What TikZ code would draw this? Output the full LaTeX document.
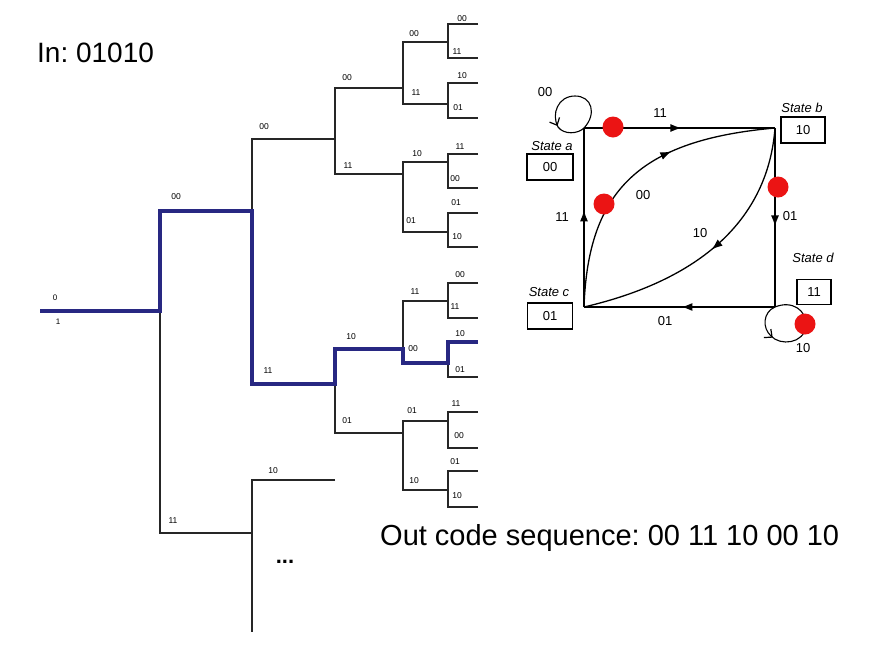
\documentclass[tikz,border=0pt]{standalone}
\usepackage{fontspec}
\setmainfont{Liberation Sans}
\usetikzlibrary{arrows.meta,decorations.markings}
\definecolor{pathblue}{RGB}{40,40,130}
\definecolor{dotred}{RGB}{235,20,20}
\frenchspacing
\newcommand\forkat[5]{%
  \coordinate (#1t) at (#2,#3); \coordinate (#1b) at (#2,#4);
  \coordinate (#1te) at (#5,#3); \coordinate (#1be) at (#5,#4);
  \draw[tree] (#1te) -- (#1t) -- (#1b) -- (#1be);}
\begin{document}
\begin{tikzpicture}[x=1pt,y=-1pt,
  tree/.style={line width=1.2pt,draw=black!85},
  best/.style={line width=3.2pt,draw=pathblue},
  tl/.style={font=\fontsize{8.5}{9}\selectfont,inner sep=0pt},
  sl/.style={font=\fontsize{13}{15}\selectfont,inner sep=0pt},
  sn/.style={font=\itshape\fontsize{13}{15}\selectfont,inner sep=0pt},
  stbox/.style={draw,line width=1.1pt,minimum height=26pt,font=\fontsize{13}{15}\selectfont,inner sep=0pt},
  edge/.style={line width=1.3pt},
  midarrow/.style={postaction={decorate},decoration={markings,mark=at position #1 with {\arrow{Latex[length=11pt,width=8pt]}}}},
  loopline/.style={line width=1.1pt,postaction={decorate},decoration={markings,mark=at position #1 with {\arrow{Straight Barb[length=6pt,width=11pt,line width=1.2pt]}}}},
  reddot/.style={circle,fill=dotred,minimum size=21pt,inner sep=0pt},
  big/.style={inner sep=0pt,anchor=west}
]
\fill[white] (0,0) rectangle (870,654);
\useasboundingbox (0,0) rectangle (870,654);

% ---------------- tree ----------------
\coordinate (r) at (40,311);
\coordinate (j1) at (160,311);
\draw[tree] (r) -- (j1);
\forkat{F1}{160}{211}{533}{252}
\forkat{F2a}{252}{139}{384}{335}
\coordinate (F2bt) at (252,480); \coordinate (F2bb) at (252,632);
\coordinate (F2bte) at (335,480);
\draw[tree] (F2bte) -- (F2bt) -- (F2bb);
\forkat{F3a}{335}{88}{174}{403}
\forkat{F3b}{335}{349}{433}{403}
\forkat{F4a}{403}{42}{104}{448}
\forkat{F4b}{403}{162}{232}{448}
\forkat{F4c}{403}{301}{363}{448}
\forkat{F4d}{403}{421}{490}{448}
\forkat{L1}{448}{24}{58}{478}
\forkat{L2}{448}{83}{118}{478}
\forkat{L3}{448}{154}{188}{478}
\forkat{L4}{448}{213}{247}{478}
\forkat{L5}{448}{283}{318}{478}
\forkat{L6}{448}{342}{377}{478}
\forkat{L7}{448}{412}{448}{478}
\forkat{L8}{448}{471}{507}{478}

% best path
\draw[best] (r) -- (j1) -- (F1t) -- (F1te) -- (F2ab) -- (F2abe) -- (F3bt) -- (F3bte)
  -- (F4cb) -- (F4cbe) -- (L6t) -- (L6te);

% tree labels
\node[tl,font=\fontsize{8}{9}\selectfont] (lr0) at (55,298) {0};
\node[tl,font=\fontsize{8}{9}\selectfont] (lr1) at (58,322) {1};
\node[tl] (a1) at (176,197) {00};
\node[tl] (a2) at (173,521) {11};
\node[tl] (b1) at (264,127) {00};
\node[tl] (b2) at (268,371) {11};
\node[tl] (b3) at (273,471) {10};
\node[tl] (c1) at (347,78) {00};
\node[tl] (c2) at (348,166) {11};
\node[tl] (c3) at (351,337) {10};
\node[tl] (c4) at (347,421) {01};
\node[tl] (d1) at (414,34) {00};
\node[tl] (d2) at (416,93) {11};
\node[tl] (d3) at (417,154) {10};
\node[tl] (d4) at (411,221) {01};
\node[tl] (d5) at (415,292) {11};
\node[tl] (d6) at (413,349) {00};
\node[tl] (d7) at (412,411) {01};
\node[tl] (d8) at (414,481) {10};
\node[tl] (e1) at (462,19) {00};
\node[tl] (e2) at (457,52) {11};
\node[tl] (e3) at (462,76) {10};
\node[tl] (e4) at (458,108) {01};
\node[tl] (e5) at (460,147) {11};
\node[tl] (e6) at (455,179) {00};
\node[tl] (e7) at (456,203) {01};
\node[tl] (e8) at (457,237) {10};
\node[tl] (e9) at (460,275) {00};
\node[tl] (e10) at (455,307) {11};
\node[tl] (e11) at (460,334) {10};
\node[tl] (e12) at (460,370) {01};
\node[tl] (e13) at (456,404) {11};
\node[tl] (e14) at (459,436) {00};
\node[tl] (e15) at (455,462) {01};
\node[tl] (e16) at (457,496) {10};
\node[inner sep=0pt,font=\bfseries\fontsize{22}{24}\selectfont] (dots) at (285,562) {...};

% ---------------- titles ----------------
\node[big,font=\fontsize{28}{32}\selectfont] (tin) at (37,53) {In: 01010};
\node[big,font=\fontsize{29}{32}\selectfont] (tout) at (380,538) {Out code sequence: 00 11 10 00 10};

% ---------------- state diagram ----------------
\coordinate (A) at (584,128);
\coordinate (B) at (775,128);
\coordinate (C) at (584,307);
\coordinate (D) at (775,307);
\draw[edge,midarrow=0.51] (A) -- (B);
\draw[edge,midarrow=0.55] (B) -- (D);
\draw[edge,midarrow=0.49] (D) -- (C);
\draw[edge,midarrow=0.54] (C) -- (A);
\draw[edge,midarrow=0.64] (C) .. controls (588,190) and (640,140) .. (B);
\draw[edge,midarrow=0.5] (B) .. controls (768,220) and (700,280) .. (C);
\draw[loopline=0.74] (A) .. controls (597,114) and (592,96) .. (575,96)
  .. controls (558,96) and (551,114) .. (558,127)
  .. controls (564,135) and (578,134) .. (A);
\draw[loopline=0.3] (D) .. controls (763,312) and (762,328) .. (771,336)
  .. controls (780,346) and (804,344) .. (806,326)
  .. controls (807,310) and (792,300) .. (D);

\node[reddot] (r1) at (613,127) {};
\node[reddot] (r2) at (604,204) {};
\node[reddot] (r3) at (778,187) {};
\node[reddot] (r4) at (805,324) {};

\node[sn] (na) at (552,146) {State a};
\node[sn] (nb) at (802,108) {State b};
\node[sn] (nc) at (549,292) {State c};
\node[sn] (nd) at (813,258) {State d};
\node[stbox,minimum width=46pt] (sa) at (550,167) {00};
\node[stbox,minimum width=44pt] (sb) at (803,130) {10};
\node[stbox,minimum width=45pt] (sc) at (550,316) {01};
\node[stbox,minimum width=34pt,minimum height=25pt] (sd) at (814,292) {11};

\node[sl] (l1) at (545,92) {00};
\node[sl] (l2) at (660,113) {11};
\node[sl] (l3) at (790,216) {01};
\node[sl] (l4) at (562,217) {11};
\node[sl] (l5) at (665,321) {01};
\node[sl] (l6) at (643,195) {00};
\node[sl] (l7) at (700,233) {10};
\node[sl] (l8) at (803,348) {10};
\end{tikzpicture}
\end{document}
